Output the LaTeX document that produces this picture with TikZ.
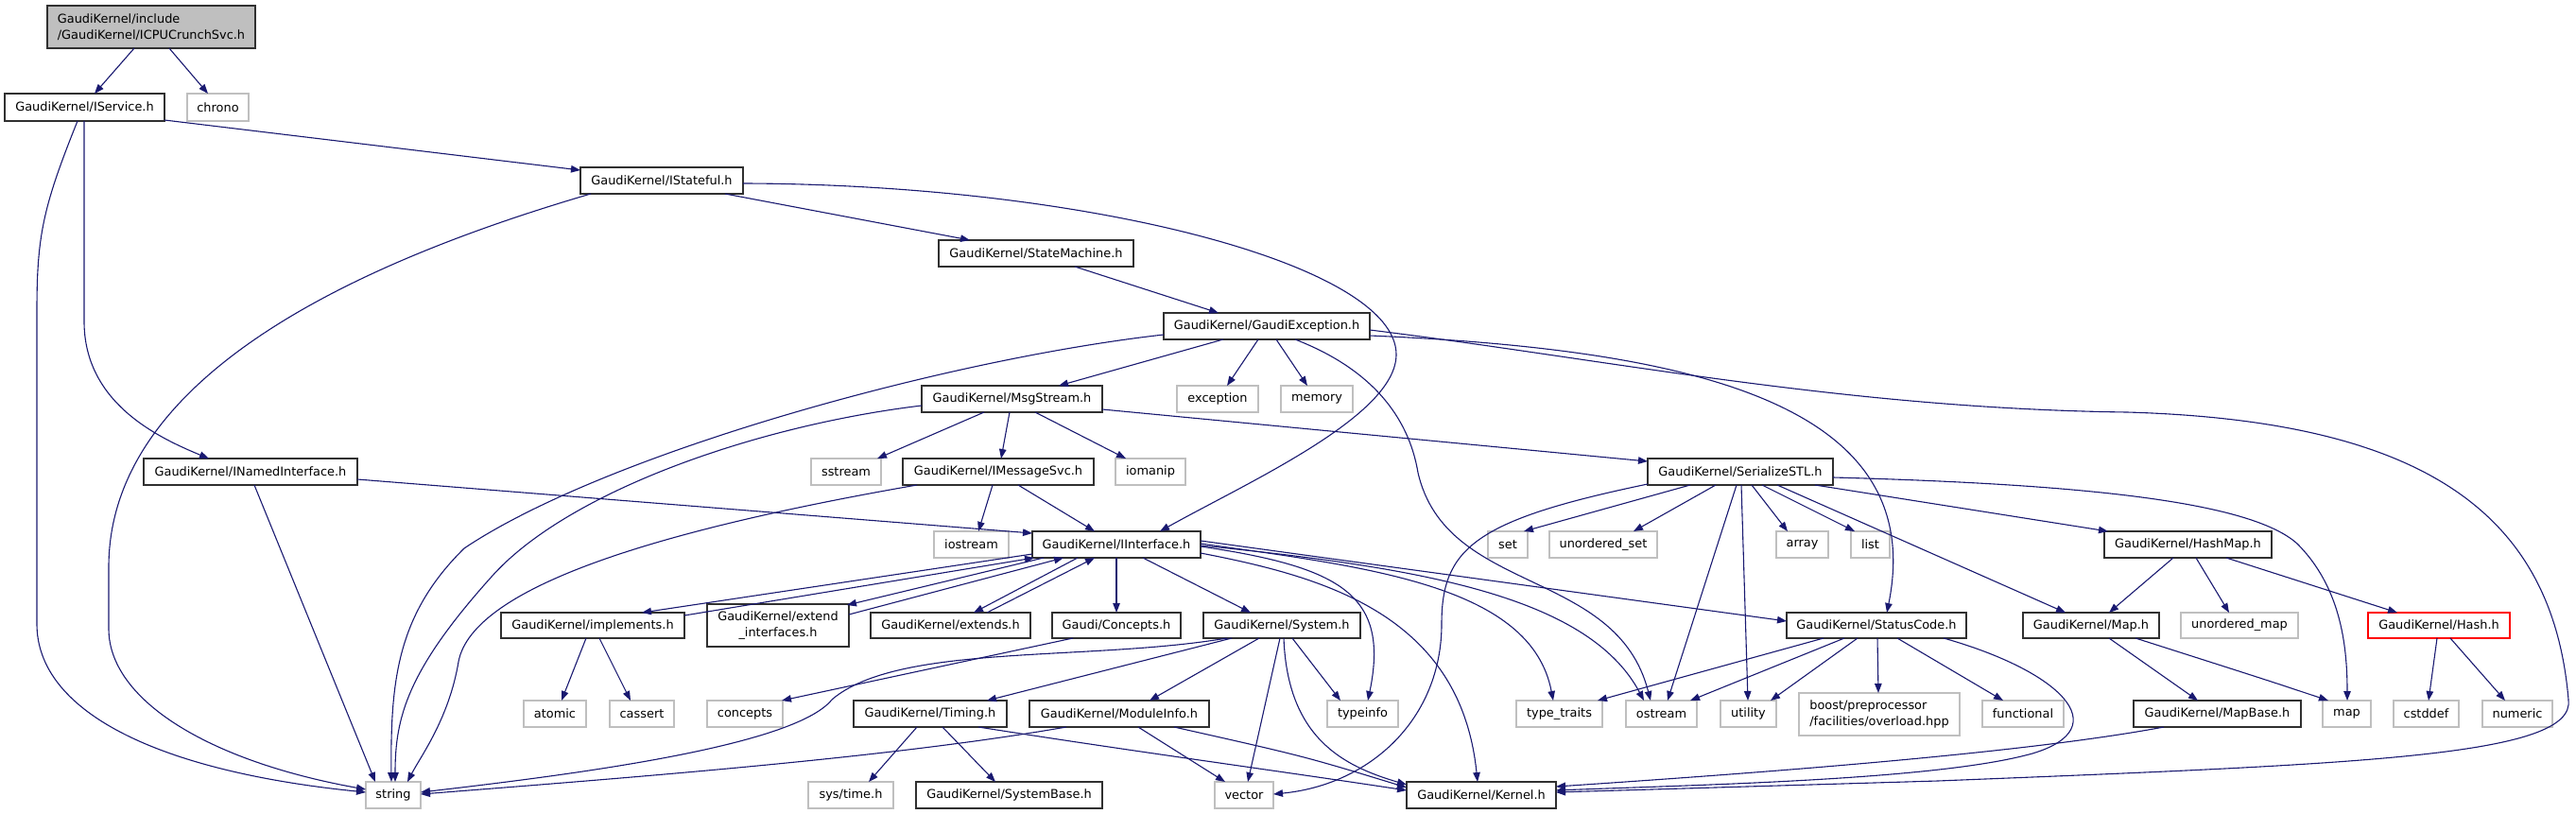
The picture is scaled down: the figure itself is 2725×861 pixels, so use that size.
\documentclass[tikz,border=0pt]{standalone}
\usepackage{fontspec}
\setmainfont{DejaVu Sans}
\usetikzlibrary{arrows.meta}
\definecolor{navy}{HTML}{191970}
\definecolor{grey75}{HTML}{BFBFBF}
\definecolor{nodeline}{HTML}{303030}
\newcommand{\fs}{\fontsize{12.9}{16.5}\selectfont}
\newcommand{\mkbox}[7]{\node[#1, minimum width={(#5-#3)*1pt}, minimum height={(#6-#4)*1pt}] (#2) at ({(#3+#5)/2},{(#4+#6)/2}) {#7};}
\tikzset{
  base/.style={rectangle, inner sep=0pt, outer sep=0pt, font=\fs, text=black, line width=1.2pt},
  pnode/.style={base, draw=nodeline, fill=white},
  xnode/.style={base, draw=grey75, fill=white},
  rnode/.style={base, draw=red, fill=white},
  rootnode/.style={base, draw=nodeline, fill=grey75, align=left},
  edge/.style={draw=navy, line width=1.1pt, -{Triangle[length=10pt,width=7.5pt]}},
}
\begin{document}
\begin{tikzpicture}[x=1pt,y=-1pt]
\useasboundingbox (0,0) rectangle (2725,861);
% nodes
\mkbox{rootnode}{root}{50}{6}{270}{51}{GaudiKernel/include\\/GaudiKernel/ICPUCrunchSvc.h}
\mkbox{pnode}{svc}{5}{99}{174}{128}{GaudiKernel/IService.h}
\mkbox{xnode}{chrono}{198}{99}{263}{128}{chrono}
\mkbox{pnode}{stf}{614}{177}{786}{205}{GaudiKernel/IStateful.h}
\mkbox{pnode}{sm}{993}{254}{1199}{282}{GaudiKernel/StateMachine.h}
\mkbox{pnode}{gex}{1231}{331}{1449}{359}{GaudiKernel/GaudiException.h}
\mkbox{pnode}{msg}{975}{408}{1166}{436}{GaudiKernel/MsgStream.h}
\mkbox{xnode}{exc}{1245}{408}{1331}{436}{exception}
\mkbox{xnode}{mem}{1355}{408}{1431}{436}{memory}
\mkbox{pnode}{nif}{152}{485}{378}{513}{GaudiKernel/INamedInterface.h}
\mkbox{xnode}{sst}{858}{485}{932}{513}{sstream}
\mkbox{pnode}{msv}{955}{485}{1157}{513}{GaudiKernel/IMessageSvc.h}
\mkbox{xnode}{iom}{1180}{485}{1254}{513}{iomanip}
\mkbox{pnode}{ser}{1743}{485}{1939}{513}{GaudiKernel/SerializeSTL.h}
\mkbox{xnode}{ios}{988}{562}{1067}{590}{iostream}
\mkbox{pnode}{iif}{1092}{562}{1270}{590}{GaudiKernel/IInterface.h}
\mkbox{xnode}{set}{1574}{562}{1616}{590}{set}
\mkbox{xnode}{uset}{1639}{562}{1753}{590}{unordered\_set}
\mkbox{xnode}{arr}{1879}{562}{1934}{590}{array}
\mkbox{xnode}{lst}{1958}{562}{1999}{590}{list}
\mkbox{pnode}{hmap}{2226}{562}{2403}{590}{GaudiKernel/HashMap.h}
\mkbox{pnode}{impl}{530}{648}{724}{675}{GaudiKernel/implements.h}
\mkbox{pnode,align=center}{ext}{748}{639}{898}{684}{GaudiKernel/extend\\\_interfaces.h}
\mkbox{pnode}{exts}{921}{648}{1090}{675}{GaudiKernel/extends.h}
\mkbox{pnode}{conc}{1113}{648}{1249}{675}{Gaudi/Concepts.h}
\mkbox{pnode}{sys}{1273}{648}{1439}{675}{GaudiKernel/System.h}
\mkbox{pnode}{stc}{1890}{648}{2080}{675}{GaudiKernel/StatusCode.h}
\mkbox{pnode}{gmap}{2140}{648}{2284}{675}{GaudiKernel/Map.h}
\mkbox{xnode}{umap}{2307}{648}{2431}{675}{unordered\_map}
\mkbox{rnode}{hash}{2505}{648}{2655}{675}{GaudiKernel/Hash.h}
\mkbox{xnode}{atom}{554}{741}{620}{769}{atomic}
\mkbox{xnode}{cass}{645}{741}{713}{769}{cassert}
\mkbox{xnode}{concs}{748}{741}{828}{769}{concepts}
\mkbox{pnode}{tim}{903}{741}{1065}{769}{GaudiKernel/Timing.h}
\mkbox{pnode}{mod}{1089}{741}{1279}{769}{GaudiKernel/ModuleInfo.h}
\mkbox{xnode}{tinfo}{1404}{741}{1479}{769}{typeinfo}
\mkbox{xnode}{ttr}{1604}{741}{1695}{769}{type\_traits}
\mkbox{xnode}{ost}{1720}{741}{1795}{769}{ostream}
\mkbox{xnode}{util}{1820}{741}{1879}{769}{utility}
\mkbox{xnode,align=left}{boost}{1903}{733}{2073}{778}{boost/preprocessor\\/facilities/overload.hpp}
\mkbox{xnode}{func}{2097}{741}{2183}{769}{functional}
\mkbox{pnode}{mbase}{2257}{741}{2434}{769}{GaudiKernel/MapBase.h}
\mkbox{xnode}{stdmap}{2457}{741}{2508}{769}{map}
\mkbox{xnode}{cstd}{2532}{741}{2601}{769}{cstddef}
\mkbox{xnode}{num}{2626}{741}{2700}{769}{numeric}
\mkbox{xnode}{str}{387}{827}{445}{855}{string}
\mkbox{xnode}{stime}{855}{827}{945}{855}{sys/time.h}
\mkbox{pnode}{sbase}{969}{827}{1166}{855}{GaudiKernel/SystemBase.h}
\mkbox{xnode}{vec}{1285}{827}{1347}{855}{vector}
\mkbox{pnode}{ker}{1488}{827}{1646}{855}{GaudiKernel/Kernel.h}
% edges
\draw[edge] ([shift={(92,45)}]root.north west) -- ([shift={(95,0)}]svc.north west);
\draw[edge] ([shift={(129,45)}]root.north west) -- ([shift={(22,0)}]chrono.north west);
\draw[edge] ([shift={(77,29)}]svc.north west) .. controls (45,220) and (39,250) .. (39,330) -- (39,660) .. controls (39,750) and (160,815) .. ([shift={(0,11)}]str.north west);
\draw[edge] ([shift={(169,28)}]svc.north west) -- ([shift={(0,3)}]stf.north west);
\draw[edge] ([shift={(84,29)}]svc.north west) -- (89,340) .. controls (89,425) and (165,462) .. ([shift={(69,0)}]nif.north west);
\draw[edge] ([shift={(11,28)}]stf.north west) .. controls (300,300) and (115,430) .. (115,600) -- (115,665) .. controls (115,740) and (220,805) .. ([shift={(0,8)}]str.north west);
\draw[edge] ([shift={(153,28)}]stf.north west) -- ([shift={(33,0)}]sm.north west);
\draw[edge] ([shift={(172,17)}]stf.north west) .. controls (1150,195) and (1477,280) .. (1477,375) .. controls (1477,440) and (1320,510) .. ([shift={(135,0)}]iif.north west);
\draw[edge] ([shift={(144,28)}]sm.north west) -- ([shift={(58,0)}]gex.north west);
\draw[edge] ([shift={(0,23)}]gex.north west) .. controls (1000,380) and (640,480) .. (491,580) .. controls (420,650) and (413,720) .. ([shift={(27,0)}]str.north west);
\draw[edge] ([shift={(63,28)}]gex.north west) -- ([shift={(145,0)}]msg.north west);
\draw[edge] ([shift={(100,28)}]gex.north west) -- ([shift={(53,0)}]exc.north west);
\draw[edge] ([shift={(119,28)}]gex.north west) -- ([shift={(28,0)}]mem.north west);
\draw[edge] ([shift={(218,24)}]gex.north west) .. controls (1800,370) and (2040,430) .. ([shift={(106,0)}]stc.north west);
\draw[edge] ([shift={(139,28)}]gex.north west) .. controls (1450,390) and (1490,440) .. (1500,500) .. controls (1530,630) and (1710,600) .. ([shift={(26,0)}]ost.north west);
\draw[edge] ([shift={(218,18)}]gex.north west) .. controls (1700,380) and (1950,432) .. (2250,436) .. controls (2560,445) and (2700,540) .. (2717,740) .. controls (2725,800) and (2500,808) .. (2050,826) -- ([shift={(158,11)}]ker.north west);
\draw[edge] ([shift={(0,21)}]msg.north west) .. controls (800,450) and (600,520) .. (520,610) .. controls (430,710) and (418,760) .. ([shift={(31,0)}]str.north west);
\draw[edge] ([shift={(66,28)}]msg.north west) -- ([shift={(70,0)}]sst.north west);
\draw[edge] ([shift={(93,28)}]msg.north west) -- ([shift={(104,0)}]msv.north west);
\draw[edge] ([shift={(120,28)}]msg.north west) -- ([shift={(11,0)}]iom.north west);
\draw[edge] ([shift={(191,25)}]msg.north west) -- ([shift={(0,3)}]ser.north west);
\draw[edge] ([shift={(15,28)}]msv.north west) .. controls (700,560) and (500,620) .. (485,700) .. controls (475,760) and (445,800) .. ([shift={(44,0)}]str.north west);
\draw[edge] ([shift={(95,28)}]msv.north west) -- ([shift={(47,0)}]ios.north west);
\draw[edge] ([shift={(122,28)}]msv.north west) -- ([shift={(66,0)}]iif.north west);
\draw[edge] ([shift={(226,22)}]nif.north west) -- ([shift={(0,2)}]iif.north west);
\draw[edge] ([shift={(117,28)}]nif.north west) -- ([shift={(10,0)}]str.north west);
\draw[edge] ([shift={(0,24)}]iif.north west) -- ([shift={(149,0)}]impl.north west);
\draw[edge] ([shift={(194,3)}]impl.north west) -- ([shift={(2,28)}]iif.north west);
\draw[edge] ([shift={(12,28)}]iif.north west) -- ([shift={(148,1)}]ext.north west);
\draw[edge] ([shift={(150,11)}]ext.north west) -- ([shift={(33,28)}]iif.north west);
\draw[edge] ([shift={(48,28)}]iif.north west) -- ([shift={(109,0)}]exts.north west);
\draw[edge] ([shift={(123,0)}]exts.north west) -- ([shift={(66,28)}]iif.north west);
\draw[edge] ([shift={(89,28)}]iif.north west) -- ([shift={(68,0)}]conc.north west);
\draw[edge] ([shift={(117,28)}]iif.north west) -- ([shift={(50,0)}]sys.north west);
\draw[edge] ([shift={(178,10)}]iif.north west) -- ([shift={(0,9)}]stc.north west);
\draw[edge] ([shift={(178,16)}]iif.north west) .. controls (1420,600) and (1470,630) .. ([shift={(43,0)}]tinfo.north west);
\draw[edge] ([shift={(178,13)}]iif.north west) .. controls (1450,600) and (1620,620) .. ([shift={(39,0)}]ttr.north west);
\draw[edge] ([shift={(178,15)}]iif.north west) .. controls (1500,600) and (1680,630) .. ([shift={(19,0)}]ost.north west);
\draw[edge] ([shift={(178,23)}]iif.north west) .. controls (1400,610) and (1545,650) .. ([shift={(75,0)}]ker.north west);
\draw[edge] ([shift={(90,27)}]impl.north west) -- ([shift={(40,0)}]atom.north west);
\draw[edge] ([shift={(104,27)}]impl.north west) -- ([shift={(22,0)}]cass.north west);
\draw[edge] ([shift={(22,27)}]conc.north west) -- ([shift={(79,0)}]concs.north west);
\draw[edge] ([shift={(25,27)}]sys.north west) .. controls (1150,700) and (950,680) .. (880,740) .. controls (840,790) and (600,820) .. ([shift={(58,11)}]str.north west);
\draw[edge] ([shift={(30,27)}]sys.north west) -- ([shift={(141,0)}]tim.north west);
\draw[edge] ([shift={(59,27)}]sys.north west) -- ([shift={(127,0)}]mod.north west);
\draw[edge] ([shift={(94,27)}]sys.north west) -- ([shift={(14,0)}]tinfo.north west);
\draw[edge] ([shift={(81,27)}]sys.north west) -- ([shift={(35,0)}]vec.north west);
\draw[edge] ([shift={(85,27)}]sys.north west) .. controls (1362,780) and (1420,810) .. ([shift={(0,3)}]ker.north west);
\draw[edge] ([shift={(67,28)}]tim.north west) -- ([shift={(64,0)}]stime.north west);
\draw[edge] ([shift={(94,28)}]tim.north west) -- ([shift={(84,0)}]sbase.north west);
\draw[edge] ([shift={(132,28)}]tim.north west) .. controls (1200,795) and (1350,815) .. ([shift={(0,9)}]ker.north west);
\draw[edge] ([shift={(39,28)}]mod.north west) .. controls (950,800) and (700,820) .. ([shift={(58,13)}]str.north west);
\draw[edge] ([shift={(115,28)}]mod.north west) -- ([shift={(11,0)}]vec.north west);
\draw[edge] ([shift={(153,28)}]mod.north west) .. controls (1380,800) .. ([shift={(0,6)}]ker.north west);
\draw[edge] ([shift={(45,28)}]ser.north west) -- ([shift={(38,0)}]set.north west);
\draw[edge] ([shift={(72,28)}]ser.north west) -- ([shift={(89,0)}]uset.north west);
\draw[edge] ([shift={(110,28)}]ser.north west) -- ([shift={(12,0)}]arr.north west);
\draw[edge] ([shift={(121,28)}]ser.north west) -- ([shift={(4,0)}]lst.north west);
\draw[edge] ([shift={(94,28)}]ser.north west) -- ([shift={(44,0)}]ost.north west);
\draw[edge] ([shift={(99,28)}]ser.north west) -- ([shift={(29,0)}]util.north west);
\draw[edge] ([shift={(0,27)}]ser.north west) .. controls (1560,550) and (1525,580) .. (1525,660) .. controls (1525,760) and (1450,830) .. ([shift={(62,13)}]vec.north west);
\draw[edge] ([shift={(177,28)}]ser.north west) -- ([shift={(4,0)}]hmap.north west);
\draw[edge] ([shift={(137,28)}]ser.north west) -- ([shift={(45,0)}]gmap.north west);
\draw[edge] ([shift={(196,20)}]ser.north west) .. controls (2200,512) and (2380,530) .. (2430,575) .. controls (2475,620) and (2483,680) .. ([shift={(26,0)}]stdmap.north west);
\draw[edge] ([shift={(39,27)}]stc.north west) -- ([shift={(86,0)}]ttr.north west);
\draw[edge] ([shift={(61,27)}]stc.north west) -- ([shift={(68,0)}]ost.north west);
\draw[edge] ([shift={(75,27)}]stc.north west) -- ([shift={(53,0)}]util.north west);
\draw[edge] ([shift={(96,27)}]stc.north west) -- ([shift={(84,0)}]boost.north west);
\draw[edge] ([shift={(117,27)}]stc.north west) -- ([shift={(22,0)}]func.north west);
\draw[edge] ([shift={(166,27)}]stc.north west) .. controls (2180,710) and (2240,770) .. (2150,797) .. controls (2050,825) and (1800,830) .. ([shift={(158,9)}]ker.north west);
\draw[edge] ([shift={(73,28)}]hmap.north west) -- ([shift={(91,0)}]gmap.north west);
\draw[edge] ([shift={(97,28)}]hmap.north west) -- ([shift={(51,0)}]umap.north west);
\draw[edge] ([shift={(129,28)}]hmap.north west) -- ([shift={(31,0)}]hash.north west);
\draw[edge] ([shift={(91,27)}]gmap.north west) -- ([shift={(68,0)}]mbase.north west);
\draw[edge] ([shift={(119,27)}]gmap.north west) .. controls (2400,720) .. ([shift={(6,0)}]stdmap.north west);
\draw[edge] ([shift={(32,28)}]mbase.north west) .. controls (2150,795) and (1900,815) .. ([shift={(158,5)}]ker.north west);
\draw[edge] ([shift={(73,27)}]hash.north west) -- ([shift={(37,0)}]cstd.north west);
\draw[edge] ([shift={(87,27)}]hash.north west) -- ([shift={(24,0)}]num.north west);
\end{tikzpicture}
\end{document}
